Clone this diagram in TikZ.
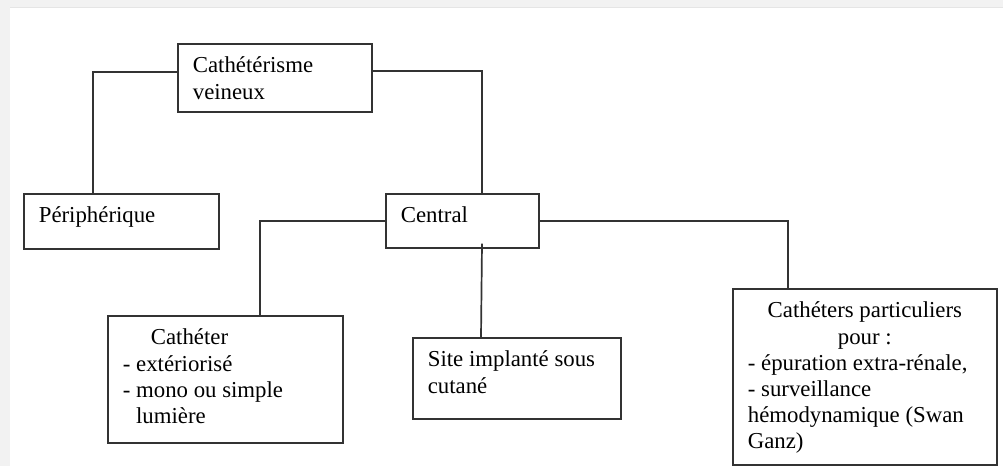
\documentclass[tikz,border=0pt]{standalone}
\usepackage{fontspec}
\setmainfont{Liberation Serif}
\usepackage{tikz}
\usetikzlibrary{positioning, calc}

% text block of a box: width, height, lines (first baseline 29pt below the top)
\newcommand{\boxtext}[3]{\parbox[c][#2][t]{#1}{\rule{0pt}{29pt}#3}}

\begin{document}
\begin{tikzpicture}[
    x=1pt, y=-1pt,
    box/.style={rectangle, draw=black!80, line width=1.7pt, anchor=north west,
                inner xsep=15pt, inner ysep=0pt, fill=white,
                font=\fontsize{22.8}{26.2}\selectfont},
    link/.style={draw=black!80, line width=1.7pt}
]

    % Page
    \useasboundingbox (0,0) rectangle (1003,466);
    \fill[black!5] (0,0) rectangle (1003,466);
    \fill[white] (10,8) rectangle (1003,466);
    \draw[black!10, line width=1pt] (10,7.5) -- (1003,7.5);

    % Top level
    \node[box] (cath) at (177,43) {\boxtext{164pt}{68pt}{Cathétérisme\\veineux}};

    % Second level
    \node[box] (periph) at (23,193) {\boxtext{165pt}{55pt}{Périphérique}};
    \node[box] (central) at (385,193) {\boxtext{123pt}{54pt}{Central}};

    % Third level
    \node[box] (catheter) at (107,315) {\boxtext{205pt}{127pt}{%
        \hspace*{28pt}Cathéter\\
        - extériorisé\\
        - mono ou simple\\
        \phantom{- }lumière}};
    \node[box] (site) at (412,337) {\boxtext{178pt}{81pt}{Site implanté sous\\cutané}};
    \node[box] (special) at (732,288) {\boxtext{234pt}{176pt}{%
        \makebox[\linewidth]{Cathéters particuliers}\\
        \makebox[\linewidth]{pour :}\\
        - épuration extra-rénale,\\
        - surveillance\\
        hémodynamique (Swan\\
        Ganz)}};

    % Connectors
    \draw[link] ([yshift=6pt]cath.west) -| ([xshift=70pt]periph.north west);
    \draw[link] ([yshift=7pt]cath.east) -| ([xshift=97pt]central.north west);
    \draw[link] (central.west) -| ([xshift=153pt]catheter.north west);
    \draw[link] ([xshift=97pt, yshift=5pt]central.south west) -- ([xshift=69pt]site.north west);
    \draw[link] (central.east) -| ([xshift=56pt]special.north west);

\end{tikzpicture}
\end{document}
